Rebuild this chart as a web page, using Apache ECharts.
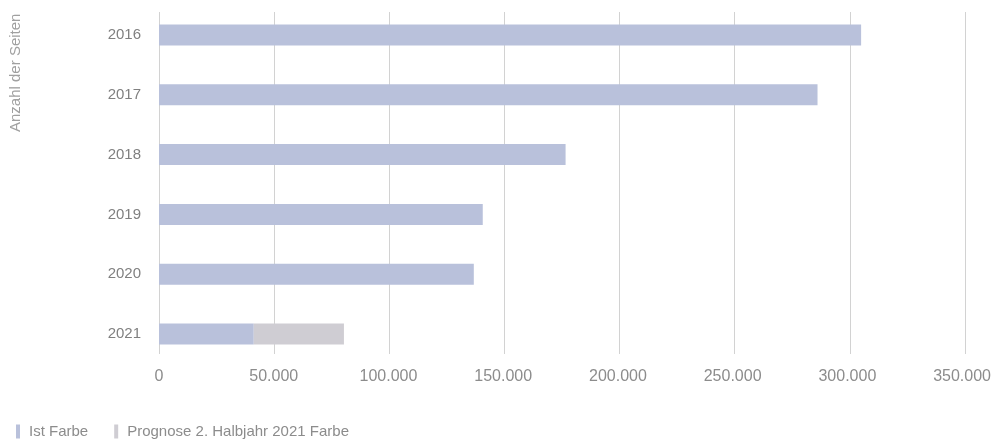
<!DOCTYPE html>
<html>
<head>
<meta charset="utf-8">
<script src="https://cdn.jsdelivr.net/npm/echarts@6/dist/echarts.min.js"></script>
<style>
html,body{margin:0;padding:0;background:#fff;}
#chart{width:994px;height:439px;}
</style>
</head>
<body>
<div id="chart"></div>
<script>
var years = ['2016', '2017', '2018', '2019', '2020', '2021'];
var ist_values = [306000, 287000, 177200, 141100, 137200, 41300];
var prognose_values = [null, null, null, null, null, 39300];
var x_ticks = [0, 50000, 100000, 150000, 200000, 250000, 300000, 350000];

var text_color = '#8c8c8c';
var font = 'Liberation Sans, Arial, sans-serif';

function fmt(v){
	return String(v).replace(/\B(?=(\d{3})+(?!\d))/g, '.');
}

var my_chart = echarts.init(document.getElementById('chart'));
my_chart.setOption({
	animation: false,
	textStyle: {fontFamily: font},
	legend: {
		left: 11,
		top: 419,
		icon: 'rect',
		itemWidth: 4,
		itemHeight: 14,
		itemGap: 26,
		textStyle: {color: text_color, fontSize: 15, padding: [0, 0, 0, 4]},
		data: ['Ist Farbe', 'Prognose 2. Halbjahr 2021 Farbe']
	},
	graphic: [{
		type: 'text',
		x: 8,
		y: 132,
		rotation: Math.PI / 2,
		style: {
			text: 'Anzahl der Seiten',
			fill: '#a0a0a0',
			fontSize: 15,
			fontFamily: font
		}
	}],
	grid: [
		{left: 159, width: 806, top: 5, height: 359},
		{left: 159, width: 806, top: 12, height: 342}
	],
	xAxis: [
		{
			gridIndex: 0,
			type: 'value',
			min: x_ticks[0],
			max: x_ticks[x_ticks.length - 1],
			interval: 50000,
			axisLine: {show: false},
			axisTick: {show: false},
			splitLine: {show: false},
			axisLabel: {color: text_color, fontSize: 16, margin: 5, formatter: fmt}
		},
		{
			gridIndex: 1,
			type: 'value',
			min: x_ticks[0],
			max: x_ticks[x_ticks.length - 1],
			interval: 50000,
			axisLine: {show: false},
			axisTick: {show: false},
			axisLabel: {show: false},
			splitLine: {show: true, lineStyle: {color: '#d2d2d2', width: 1}}
		}
	],
	yAxis: [
		{
			gridIndex: 0,
			type: 'category',
			inverse: true,
			data: years,
			axisLine: {show: false},
			axisTick: {show: false},
			axisLabel: {color: '#808080', fontSize: 15, margin: 18}
		},
		{
			gridIndex: 1,
			type: 'category',
			data: years,
			show: false
		}
	],
	series: [
		{
			name: 'Ist Farbe',
			type: 'bar',
			stack: 'total',
			xAxisIndex: 0,
			yAxisIndex: 0,
			barWidth: 21,
			itemStyle: {color: '#b9c1db'},
			data: ist_values,
			z: 3
		},
		{
			name: 'Prognose 2. Halbjahr 2021 Farbe',
			type: 'bar',
			stack: 'total',
			xAxisIndex: 0,
			yAxisIndex: 0,
			barWidth: 21,
			itemStyle: {color: '#cfcdd3'},
			data: prognose_values,
			z: 3
		}
	]
});
</script>
</body>
</html>
